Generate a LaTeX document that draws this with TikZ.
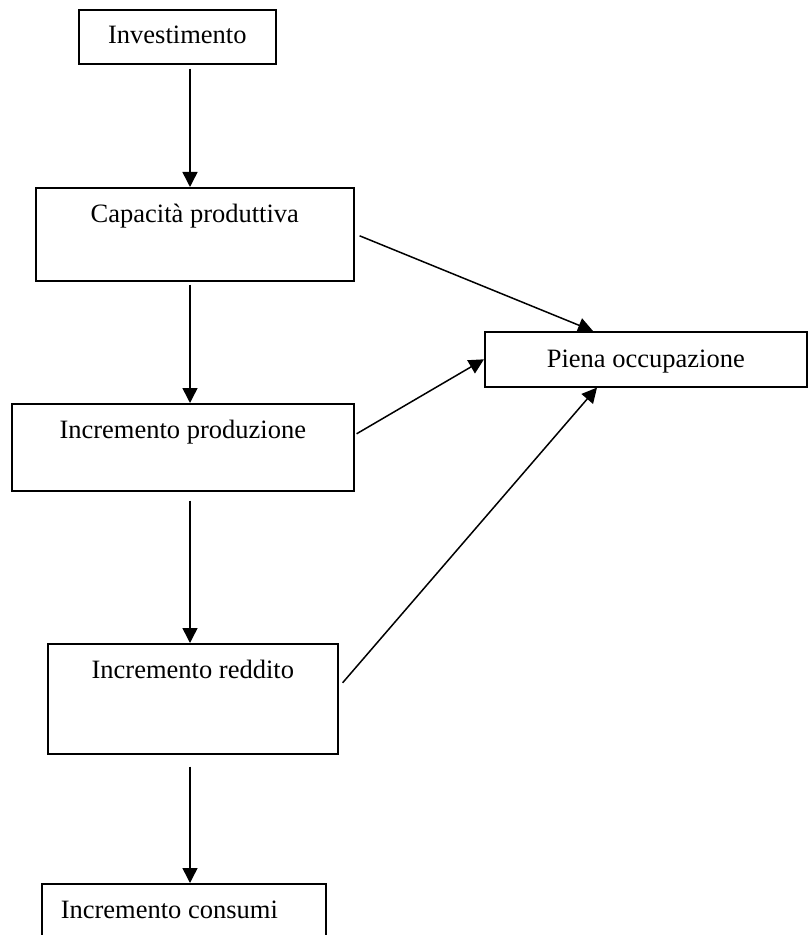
\documentclass[tikz,border=0pt]{standalone}
\usepackage{fontspec}
\setmainfont{Liberation Serif}
\usetikzlibrary{arrows.meta,calc}
\tikzset{
  box/.style={draw, line width=0.8pt, rectangle, inner sep=0pt, anchor=north west,
    font=\fontsize{13.25pt}{16pt}\selectfont},
  flow/.style={-{Triangle[length=7.5pt,width=7.5pt]}, line width=0.75pt},
}
\begin{document}
\begin{tikzpicture}[x=0.5pt,y=-0.5pt]
  \useasboundingbox (0,0) rectangle (807,935);
  \node[box, minimum width=98.5pt, text height=17pt, text depth=10pt] (inv) at (78,9) {Investimento};
  \node[box, minimum width=159pt, text height=17.5pt, text depth=29pt] (cap) at (35,187) {Capacità produttiva};
  \node[box, minimum width=161pt, text height=18pt, text depth=9.5pt] (piena) at (484,331) {Piena occupazione};
  \node[box, minimum width=171pt, text height=17.5pt, text depth=26pt] (prod) at (11,403) {Incremento produzione};
  \node[box, minimum width=145pt, text height=17.5pt, text depth=37.5pt] (red) at (47,643) {Incremento reddito};
  % text sits left of the box centre
  \node[box, minimum width=142pt, text height=17.5pt, text depth=30pt] (cons) at (41,883) {Incremento consumi\hspace*{14.5pt}};
  \coordinate (spine) at (190,0);
  \begin{scope}[flow]
    \draw[shorten <=2pt] (inv.south -| spine) -- (cap.north -| spine);
    \draw[shorten <=1.5pt] (cap.south -| spine) -- (prod.north -| spine);
    \draw[shorten <=4.5pt] (prod.south -| spine) -- (red.north -| spine);
    \draw[shorten <=6pt] (red.south -| spine) -- (cons.north -| spine);
    \draw ($(cap.east)+(5,1.5)$) -- ($(piena.north west)+(109,0)$);
    \draw ($(prod.east)+(2,-13.5)$) -- (piena.west);
    \draw ($(red.east)+(4,-16)$) -- ($(piena.south west)+(113,0)$);
  \end{scope}
\end{tikzpicture}
\end{document}
